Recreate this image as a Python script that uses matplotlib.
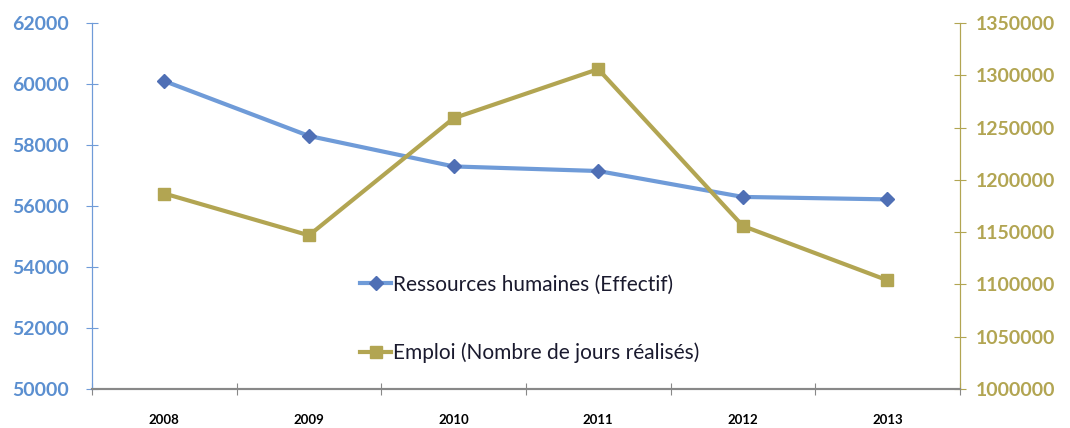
import numpy as np
import matplotlib.pyplot as plt
from matplotlib.lines import Line2D

plt.rcParams['font.family'] = ['Lato', 'DejaVu Sans']

annees = ['2008', '2009', '2010', '2011', '2012', '2013']
effectif = [60100, 58300, 57300, 57150, 56300, 56220]
jours = [1187000, 1147000, 1259000, 1306000, 1156000, 1104000]

bleu = '#6f9bd8'
bleu_fonce = '#4f6fb5'
or_ = '#b2a552'
x = np.arange(len(annees))

fig = plt.figure(figsize=(10.7, 4.28), dpi=100)
ax = fig.add_axes([0.086, 0.091, 0.811, 0.855])
ax2 = ax.twinx()

ax.plot(x, effectif, color=bleu, lw=3, marker='D', ms=7, mfc=bleu_fonce, mec=bleu_fonce, zorder=3)
ax2.plot(x, jours, color=or_, lw=3, marker='s', ms=9, mfc=or_, mec=or_, zorder=3)

ax.set_xlim(-0.5, 5.5)
ax.set_ylim(50000, 62000)
yt = list(range(50000, 62001, 2000))
ax.set_yticks(yt)
ax.set_yticklabels([str(v) for v in yt], fontweight='bold', fontsize=14, color='#5b8fd0')
ax2.set_ylim(1000000, 1350000)
yt2 = list(range(1000000, 1350001, 50000))
ax2.set_yticks(yt2)
ax2.set_yticklabels([str(v) for v in yt2], fontweight='bold', fontsize=14, color=or_)

ax.set_xticks(np.arange(-0.5, 5.6, 1))
ax.set_xticklabels([])
ax.set_xticks(x, minor=True)
ax.set_xticklabels(annees, minor=True, fontsize=9.5, fontweight='bold', color='black')
ax.tick_params(axis='x', which='minor', length=0, pad=18)
ax.tick_params(axis='x', which='major', direction='inout', length=8, color='#888888')

ax.tick_params(axis='y', direction='inout', length=9, color=bleu, pad=12)
ax2.tick_params(axis='y', direction='inout', length=9, color=or_, pad=7)

for a in (ax, ax2):
    a.spines['top'].set_visible(False)
    a.spines['left'].set_color(bleu)
    a.spines['right'].set_color(or_)
    a.spines['bottom'].set_color('#888888')
    a.spines['bottom'].set_linewidth(1.5)

handles = [
    Line2D([], [], color=bleu, lw=3, marker='D', ms=7, mfc=bleu_fonce, mec=bleu_fonce),
    Line2D([], [], color=or_, lw=3, marker='s', ms=9, mfc=or_, mec=or_),
]
labels = ['Ressources humaines (Effectif)', 'Emploi (Nombre de jours réalisés)']
leg = ax.legend(handles, labels, loc='upper left', bbox_to_anchor=(0.297, 0.341), frameon=False,
                fontsize=15, handlelength=1.5, handletextpad=0.1, labelspacing=2.3,
                borderpad=0)
for t in leg.get_texts():
    t.set_color('#1a1a2e')

fig.savefig('out.png', dpi=100)
